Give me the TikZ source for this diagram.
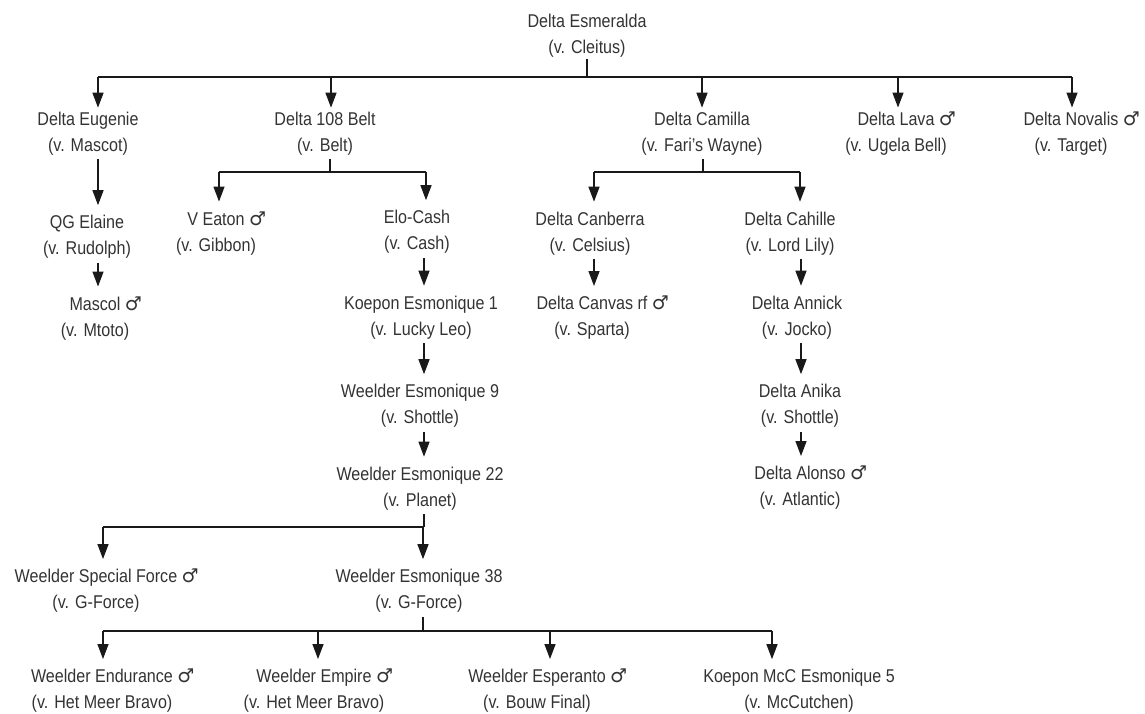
\documentclass[tikz,border=0pt]{standalone}
\usepackage{fontspec}
\setmainfont{Liberation Sans}[FakeStretch=0.87]
\newfontfamily\symfont{DejaVu Sans}
\usetikzlibrary{arrows.meta}

\definecolor{ink}{HTML}{333333}
\newcommand{\fs}{\fontsize{18.5}{26}\selectfont}
\newcommand{\male}{\rlap{\ {\symfont\fontsize{19}{26}\selectfont ♂}}}

\tikzset{
  dog/.style={align=center, inner sep=0pt, font=\fs, text=ink},
  link/.style={line width=1.3pt, draw=black!90},
  arr/.style={link, -{Triangle[length=15pt,width=11pt]}, shorten >=10pt},
}

\begin{document}
\begin{tikzpicture}[x=1pt, y=-1pt]
  \useasboundingbox (0,0) rectangle (1145,714);

  \node[dog] (esm) at (587,36) {Delta Esmeralda\\(v. Cleitus)};

  \node[dog] (eug) at (88,133.5) {Delta Eugenie\\(v. Mascot)};
  \node[dog] (belt) at (325,133.5) {Delta 108 Belt\\(v. Belt)};
  \node[dog] (cam) at (702,133.5) {Delta Camilla\\(v. Fari’s Wayne)};
  \node[dog] (lava) at (896,133.5) {Delta Lava\male\\(v. Ugela Bell)};
  \node[dog] (nov) at (1071,133.5) {Delta Novalis\male\\(v. Target)};

  \node[dog] (qge) at (87,237) {QG Elaine\\(v. Rudolph)};
  \node[dog] (mascol) at (95,318.5) {Mascol\male\\(v. Mtoto)};

  \node[dog] (eaton) at (216,233.5) {V Eaton\male\\(v. Gibbon)};
  \node[dog] (elo) at (417,232) {Elo-Cash\\(v. Cash)};
  \node[dog] (koep1) at (421,317.5) {Koepon Esmonique 1\\(v. Lucky Leo)};
  \node[dog] (we9) at (420,406) {Weelder Esmonique 9\\(v. Shottle)};
  \node[dog] (we22) at (420,488.5) {Weelder Esmonique 22\\(v. Planet)};

  \node[dog] (canb) at (590,233.5) {Delta Canberra\\(v. Celsius)};
  \node[dog] (canv) at (592,318) {Delta Canvas rf\male\\(v. Sparta)};
  \node[dog] (cah) at (790,233.5) {Delta Cahille\\(v. Lord Lily)};
  \node[dog] (ann) at (797,317.5) {Delta Annick\\(v. Jocko)};
  \node[dog] (anika) at (800,406) {Delta Anika\\(v. Shottle)};
  \node[dog] (alonso) at (800,488) {Delta Alonso\male\\(v. Atlantic)};

  \node[dog] (spf) at (96,591) {Weelder Special Force\male\\(v. G-Force)};
  \node[dog] (we38) at (419,591) {Weelder Esmonique 38\\(v. G-Force)};

  \node[dog] (endu) at (102,691) {Weelder Endurance\male\\(v. Het Meer Bravo)};
  \node[dog] (emp) at (314,691) {Weelder Empire\male\\(v. Het Meer Bravo)};
  \node[dog] (esp) at (537,691) {Weelder Esperanto\male\\(v. Bouw Final)};
  \node[dog] (kmc) at (799,691) {Koepon McC Esmonique 5\\(v. McCutchen)};

  % bus levels
  \coordinate (b0) at (0,77);
  \coordinate (b1) at (0,172);
  \coordinate (b5) at (0,527);
  \coordinate (b6) at (0,631);

  % first generation
  \draw[link, shorten <=1pt] (esm.south) -- (esm.south |- b0);
  \draw[link] ([xshift=10pt]eug.north |- b0) -- ([xshift=1pt]nov.north |- b0);
  \foreach \n/\dx in {eug/10, belt/6, cam/0, lava/2, nov/1}
    \draw[arr, shorten >=4pt] ([xshift=\dx pt]\n.north |- b0) -- ([xshift=\dx pt]\n.north);

  % families with a bus
  \foreach \p/\dp/\b/\l/\dl/\r/\dr in {belt/5/b1/eaton/3/elo/9, cam/1/b1/canb/4/cah/10,
      we22/4/b5/spf/7/we38/4, we38/4/b6/endu/1/kmc/-27} {
    \draw[link, shorten <=4pt] ([xshift=\dp pt]\p.south) -- ([xshift=\dp pt]\p.south |- \b);
    \draw[link] ([xshift=\dl pt]\l.north |- \b) -- ([xshift=\dr pt]\r.north |- \b);
    \draw[arr] ([xshift=\dl pt]\l.north |- \b) -- ([xshift=\dl pt]\l.north);
    \draw[arr] ([xshift=\dr pt]\r.north |- \b) -- ([xshift=\dr pt]\r.north);
  }
  \foreach \n/\dx in {emp/4, esp/13}
    \draw[arr] ([xshift=\dx pt]\n.north |- b6) -- ([xshift=\dx pt]\n.north);

  % single lines of descent
  \foreach \a/\b/\dx in {eug/qge/10, qge/mascol/11, elo/koep1/7, koep1/we9/3, we9/we22/4,
      canb/canv/4, cah/ann/11, ann/anika/4, anika/alonso/1}
    \draw[arr, shorten <=4pt] ([xshift=\dx pt]\a.south) -- ([xshift=\dx pt]\a.south |- \b.north);
\end{tikzpicture}
\end{document}
